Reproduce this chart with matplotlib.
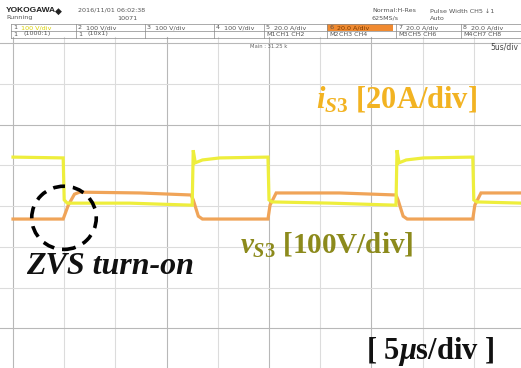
import numpy as np
import matplotlib
matplotlib.use('Agg')
from matplotlib import pyplot as plt
from matplotlib.patches import Ellipse, Rectangle

# scope settings
t_div = 5.0          # us per division
v_div = 100.0        # V per division
i_div = 20.0         # A per division
v_offset = 4.0       # divisions from bottom grid line
i_offset = 4.0

# v_S3 trace
v_t = [0, 4.9, 5.0, 5.3, 11.4, 17.5, 17.6, 17.8, 18.5, 20.2, 24.9, 25.0, 25.3,
       31.0, 37.4, 37.5, 37.7, 38.4, 40.1, 44.9, 45.0, 45.3, 49.7]
v_s3 = [120, 118, 15, 7, 7, 2, 137, 106, 113, 118, 120, 15, 10,
        7, 2, 137, 106, 113, 118, 120, 15, 10, 7]

# i_S3 trace
i_t = [0, 4.9, 5.4, 6.0, 6.5, 12.4, 17.4, 17.6, 18.1, 18.5, 24.9, 25.1, 25.7,
       31.9, 37.4, 37.6, 38.1, 38.5, 44.9, 45.1, 45.7, 49.7]
i_s3 = [-6.4, -6.4, 0.4, 5.8, 6.8, 6.4, 5.4, 3.0, -5.0, -6.4, -6.4, 0.4, 6.4,
        6.4, 5.4, 3.0, -5.0, -6.4, -6.4, 0.4, 6.4, 6.4]

W, H = 521, 368
plt.rcParams['mathtext.fontset'] = 'custom'
plt.rcParams['mathtext.it'] = 'Liberation Serif:italic:bold'
plt.rcParams['mathtext.rm'] = 'Liberation Serif:bold'
plt.rcParams['mathtext.bf'] = 'Liberation Serif:bold'

fig = plt.figure(figsize=(W / 100, H / 100), dpi=100)
ax = fig.add_axes([0, 0, 1, 1])
ax.set_xlim(-13 / 51.2 * t_div, (W - 13) / 51.2 * t_div)
ax.set_ylim((369 - H) / 40.75, 369 / 40.75)
ax.axis('off')

# grid
dark_x = [0, 15, 25, 35]
for k in range(11):
    tt = k * t_div
    c = '#b8b8b8' if tt in dark_x else '#dcdcdc'
    ax.plot([tt, tt], [0, 8.15], color=c, lw=0.8, zorder=1)
for k in range(9):
    c = '#b8b8b8' if k in (1, 6, 8) else '#dcdcdc'
    ax.axhline(k, color=c, lw=0.8, zorder=1)

# traces
vy = [v_offset + v / v_div for v in v_s3]
iy = [i_offset + i / i_div for i in i_s3]
ax.plot(i_t, iy, color='#f0a458', lw=2.3, zorder=3, solid_joinstyle='miter')
ax.plot(v_t, vy, color='#eeee3c', lw=2.3, zorder=4, solid_joinstyle='miter')

# ZVS circle
circ = Ellipse((4.98, 3.71), 6.3, 1.55, fill=False, ec='black', lw=2.6,
               ls=(0, (3.3, 2.2)), zorder=6)
ax.add_patch(circ)


def px(x, y):
    return x / W, 1 - y / H


serif = 'Liberation Serif'
fig.text(*px(316, 100), r'$i_{S3}$ [20A/div]', color='#f2b322', fontsize=22,
         fontfamily=serif, fontweight='bold', va='center', ha='left', zorder=7)
fig.text(*px(240, 245), r'$v_{S3}$ [100V/div]', color='#8c8a1c', fontsize=21,
         fontfamily=serif, fontweight='bold', va='center', ha='left', zorder=7)
fig.text(*px(26, 266), 'ZVS turn-on', color='#111111', fontsize=23,
         fontfamily=serif, fontweight='bold', fontstyle='italic',
         va='center', ha='left', zorder=7)
fig.text(*px(366, 351), r'[ 5$\mu$s/div ]', color='#111111', fontsize=22,
         fontfamily=serif, fontweight='bold', va='center', ha='left', zorder=7)

# header
hdr = dict(fontsize=4.6, color='#555555', va='center', ha='left')
fig.text(*px(6, 11), 'YOKOGAWA', fontsize=6, fontweight='bold',
         fontfamily='Liberation Sans', color='#222222', va='center', ha='left')
fig.text(*px(55, 11), '\u25c6', fontsize=6.5, color='#222222', va='center')
fig.text(*px(78, 10), '2016/11/01 06:02:38', **hdr)
fig.text(*px(6, 18), 'Running', **hdr)
fig.text(*px(117, 18), '10071', **hdr)
fig.text(*px(372, 11), 'Normal:H-Res', **hdr)
fig.text(*px(372, 18), '625MS/s', **hdr)
fig.text(*px(430, 11), 'Pulse Width CH5 \u21931', **hdr)
fig.text(*px(430, 18), 'Auto', **hdr)

# channel boxes
cells3 = [(11, '1', '100 V/div'), (76, '2', '100 V/div'), (145, '3', '100 V/div'),
          (214, '4', '100 V/div'), (264, '5', '20.0 A/div'),
          (327, '6', '20.0 A/div'), (396, '7', '20.0 A/div'),
          (461, '8', '20.0 A/div')]
cells4 = [(11, '1', '(1000:1)'), (76, '1', '(10x1)'), (264, 'M1', 'CH1 CH2'),
          (327, 'M2', 'CH3 CH4'), (396, 'M3', 'CH5 CH6'), (461, 'M4', 'CH7 CH8')]
fig.add_artist(Rectangle(px(327, 31), 66 / W, 7 / H, transform=fig.transFigure,
                         fc='#f08a30', ec='none', zorder=0))
for x0, n, lab in cells3:
    col = '#d8d000' if n == '1' else ('#7a3a00' if n == '6' else '#555555')
    fig.text(*px(x0 + 2, 27.5), n, **hdr)
    fig.text(*px(x0 + 10, 27.5), lab, fontsize=4.6, color=col, va='center')
for x0, n, lab in cells4:
    fig.text(*px(x0 + 2, 34), n, **hdr)
    fig.text(*px(x0 + 12, 34), lab, **hdr)
for yy in (24, 31, 37.5):
    fig.add_artist(plt.Line2D([11 / W, 1], [1 - yy / H] * 2, color='#888888',
                              lw=0.5, transform=fig.transFigure))
for x0, _, _ in cells3:
    fig.add_artist(plt.Line2D([x0 / W] * 2, [1 - 24 / H, 1 - 37.5 / H],
                              color='#888888', lw=0.5, transform=fig.transFigure))
fig.text(*px(250, 46), 'Main : 31.25 k', fontsize=3.8, color='#666666', va='center')
fig.text(*px(490, 47), '5us/div', fontsize=5.5, color='#444444', va='center')

fig.savefig('out.png', dpi=100)
